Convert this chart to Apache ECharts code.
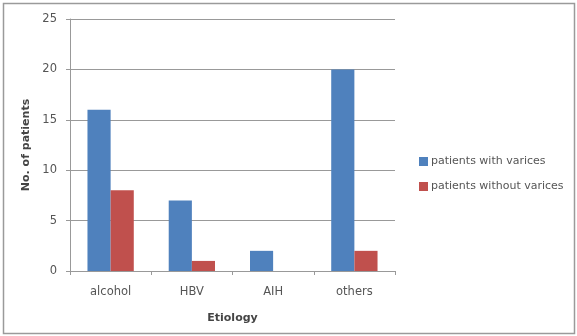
<!DOCTYPE html>
<html>
<head>
<meta charset="utf-8">
<script src="https://cdn.jsdelivr.net/npm/echarts@6/dist/echarts.min.js"></script>
<style>
  html, body { margin: 0; padding: 0; background: #fff; }
  #chart { width: 577px; height: 336px; }
</style>
</head>
<body>
<div id="chart"></div>
<script>
// Etiology categories and patient counts
const categories = ['alcohol', 'HBV', 'AIH', 'others'];
const withVarices = [16, 7, 2, 20];
const withoutVarices = [8, 1, 0, 2];
const yTicks = [0, 5, 10, 15, 20, 25];

const chart = echarts.init(document.getElementById('chart'), null, { renderer: 'canvas' });

const font = '"DejaVu Sans", "Liberation Sans", sans-serif';

chart.setOption({
  animation: false,
  backgroundColor: '#ffffff',
  graphic: [{
    type: 'rect',
    shape: { x: 3.5, y: 3.5, width: 571, height: 330 },
    style: { fill: 'none', stroke: '#9a9a9a', lineWidth: 1.5 },
    silent: true
  }],
  grid: { left: 70, right: 182, top: 19, bottom: 65, containLabel: false },
  legend: {
    orient: 'vertical',
    left: 414,
    top: 151,
    itemWidth: 9,
    itemHeight: 9,
    itemGap: 14,
    icon: 'rect',
    textStyle: { fontFamily: font, fontSize: 11, color: '#555', padding: [0, 0, 0, -2] },
    data: ['patients with varices', 'patients without varices']
  },
  xAxis: {
    type: 'category',
    data: categories,
    name: 'Etiology',
    nameLocation: 'middle',
    nameGap: 42,
    nameTextStyle: { fontFamily: font, fontSize: 11, fontWeight: 'bold', color: '#444' },
    axisLine: { lineStyle: { color: '#999', width: 1 } },
    axisTick: { show: true, alignWithLabel: false, length: 4, lineStyle: { color: '#999' } },
    axisLabel: { fontFamily: font, fontSize: 11.5, color: '#555', margin: 15 }
  },
  yAxis: {
    type: 'value',
    min: yTicks[0],
    max: yTicks[yTicks.length - 1],
    interval: 5,
    name: 'No. of patients',
    nameLocation: 'middle',
    nameGap: 31,
    nameRotate: 90,
    nameTextStyle: { fontFamily: font, fontSize: 11, fontWeight: 'bold', color: '#444' },
    axisLine: { show: true, lineStyle: { color: '#999', width: 1 } },
    axisTick: { show: true, length: 4, lineStyle: { color: '#999' } },
    axisLabel: { fontFamily: font, fontSize: 11.5, color: '#555', margin: 13 },
    splitLine: { lineStyle: { color: '#999', width: 1 } }
  },
  series: [
    {
      name: 'patients with varices',
      type: 'bar',
      data: withVarices,
      barGap: '0%',
      barCategoryGap: '43%',
      itemStyle: { color: '#4F81BD' }
    },
    {
      name: 'patients without varices',
      type: 'bar',
      data: withoutVarices,
      itemStyle: { color: '#C0504D' }
    }
  ]
});
</script>
</body>
</html>
